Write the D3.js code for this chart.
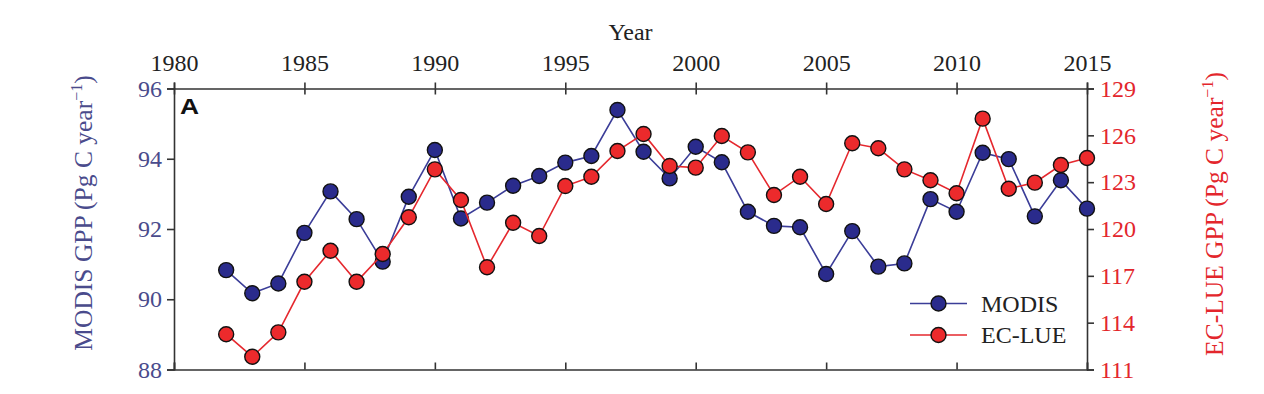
<!DOCTYPE html>
<html><head><meta charset="utf-8">
<script src="https://cdn.jsdelivr.net/npm/d3@7"></script>
<style>body{margin:0;background:#fff}svg{display:block}</style>
</head><body>
<script>
const years = [1982,1983,1984,1985,1986,1987,1988,1989,1990,1991,1992,1993,1994,1995,1996,1997,1998,1999,2000,2001,2002,2003,2004,2005,2006,2007,2008,2009,2010,2011,2012,2013,2014,2015];
const modis = [90.83,90.17,90.45,91.89,93.07,92.28,91.07,92.92,94.25,92.30,92.75,93.23,93.51,93.89,94.08,95.39,94.20,93.44,94.34,93.90,92.49,92.09,92.05,90.72,91.94,90.93,91.02,92.85,92.49,94.17,93.99,92.36,93.39,92.58];
const eclue = [113.26,111.82,113.38,116.62,118.61,116.62,118.40,120.75,123.82,121.86,117.55,120.40,119.55,122.75,123.35,125.00,126.09,124.04,123.93,125.96,124.91,122.18,123.35,121.60,125.49,125.17,123.82,123.12,122.29,127.07,122.58,122.97,124.10,124.55];
const xTicks = [1980,1985,1990,1995,2000,2005,2010,2015];
const leftTicks = [88,90,92,94,96];
const rightTicks = [111,114,117,120,123,126,129];
const seriesNames = ["MODIS","EC-LUE"];

const W=1264,H=394;
const m={l:174,r:1264-1087,t:88.5,b:394-369.5};
const blue="#2a2b8c", blueLine="#3b3d98", blueText="#4a4b8c";
const red="#ec2a2c", redLine="#e5282e", redText="#e3262c";
const axisCol="#333";
const font="'Liberation Serif','Times New Roman',serif";

const svg=d3.select("body").append("svg").attr("width",W).attr("height",H);
const x=d3.scaleLinear().domain([1980,2015]).range([m.l,W-m.r]);
const yL=d3.scaleLinear().domain([88,96]).range([H-m.b,m.t]);
const yR=d3.scaleLinear().domain([111,129]).range([H-m.b,m.t]);

const gTop=svg.append("g").attr("transform",`translate(0,${m.t})`)
  .call(d3.axisTop(x).tickValues(xTicks).tickFormat(d3.format("d")).tickSize(6).tickPadding(12));
gTop.selectAll(".tick line").attr("y2",-6).clone().attr("y2",6);
const gBot=svg.append("g").attr("transform",`translate(0,${H-m.b})`)
  .call(d3.axisBottom(x).tickValues(xTicks).tickSize(-7).tickFormat(""));
const gL=svg.append("g").attr("transform",`translate(${m.l},0)`)
  .call(d3.axisLeft(yL).tickValues(leftTicks).tickSize(7).tickPadding(5));
const gR=svg.append("g").attr("transform",`translate(${W-m.r},0)`)
  .call(d3.axisRight(yR).tickValues(rightTicks).tickSize(7).tickPadding(6));

[gTop,gBot,gL,gR].forEach(g=>{
  g.select(".domain").attr("stroke",axisCol).attr("stroke-width",1.6);
  g.selectAll(".tick line").attr("stroke",axisCol).attr("stroke-width",1.6);
  g.selectAll("text").attr("font-family",font).attr("font-size",24);
});
gTop.selectAll("text").attr("fill","#222");
gL.selectAll("text").attr("fill",blueText);
gR.selectAll("text").attr("fill",redText);

svg.append("text").attr("x",(m.l+W-m.r)/2).attr("y",40).attr("text-anchor","middle")
  .attr("font-family",font).attr("font-size",24).attr("fill","#222").text("Year");

function yTitle(cx,cy,label,col){
  const t=svg.append("text").attr("transform",`translate(${cx},${cy}) rotate(-90)`)
    .attr("text-anchor","middle").attr("font-family",font).attr("font-size",25.5).attr("fill",col);
  t.append("tspan").text(label+" (Pg C year");
  t.append("tspan").attr("dy",-10).attr("font-size",16).text("\u22121");
  t.append("tspan").attr("dy",10).text(")");
}
yTitle(92,213,"MODIS GPP",blueText);
yTitle(1223,214,"EC-LUE GPP",redText);

svg.append("text").attr("x",180).attr("y",114).attr("font-family","'Liberation Sans',Arial,sans-serif")
  .attr("font-weight","bold").attr("font-size",22).attr("fill","#111")
  .attr("transform","translate(180,114) scale(1.2,1) translate(-180,-114)").text("A");

const data1=years.map((yr,i)=>({yr,v:modis[i]}));
const data2=years.map((yr,i)=>({yr,v:eclue[i]}));
const line1=d3.line().x(d=>x(d.yr)).y(d=>yL(d.v));
const line2=d3.line().x(d=>x(d.yr)).y(d=>yR(d.v));
const r=7.5;

svg.append("path").datum(data1).attr("d",line1).attr("fill","none").attr("stroke",blueLine).attr("stroke-width",1.6);
svg.append("g").selectAll("circle").data(data1).join("circle")
  .attr("cx",d=>x(d.yr)).attr("cy",d=>yL(d.v)).attr("r",r).attr("fill",blue).attr("stroke","#111").attr("stroke-width",1.4);
svg.append("path").datum(data2).attr("d",line2).attr("fill","none").attr("stroke",redLine).attr("stroke-width",1.6);
svg.append("g").selectAll("circle").data(data2).join("circle")
  .attr("cx",d=>x(d.yr)).attr("cy",d=>yR(d.v)).attr("r",r).attr("fill",red).attr("stroke","#111").attr("stroke-width",1.4);

const leg=[{n:seriesNames[0],f:blue,l:blueLine,y:303.5},{n:seriesNames[1],f:red,l:redLine,y:335}];
leg.forEach(o=>{
  svg.append("line").attr("x1",910).attr("x2",967).attr("y1",o.y).attr("y2",o.y).attr("stroke",o.l).attr("stroke-width",1.6);
  svg.append("circle").attr("cx",938.5).attr("cy",o.y).attr("r",r).attr("fill",o.f).attr("stroke","#111").attr("stroke-width",1.4);
  svg.append("text").attr("x",981).attr("y",o.y+8).attr("font-family",font).attr("font-size",24).attr("fill","#222").text(o.n);
});
</script>
</body></html>
